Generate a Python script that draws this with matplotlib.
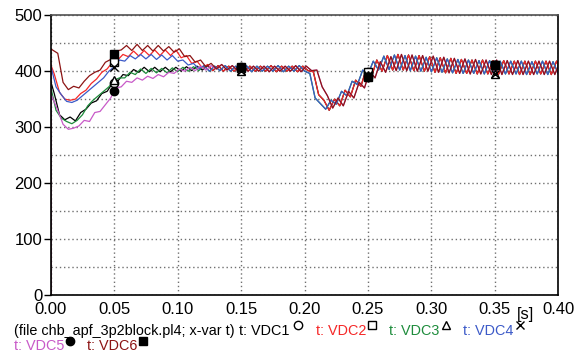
import numpy as np
import matplotlib
matplotlib.use("Agg")
import matplotlib.pyplot as plt
from matplotlib.lines import Line2D

plt.rcParams['font.family'] = ['Liberation Sans', 'DejaVu Sans']

# ripple half period (120 Hz ripple) and phase offsets of the three legs
h = 1.0 / 240
offsets = {'a': 2 * h / 3, 'b': 0.0, 'c': 4 * h / 3}

# start of each trace: t=0 zero, initial value, then samples k=0..29
vdc1_start = [0, 382, 360, 322, 313, 318, 311, 326, 332, 343, 347, 360, 364, 378,
              382, 394, 392, 403, 398, 407, 399, 407, 399, 407, 399, 407, 400,
              408, 401, 409, 402, 410]
vdc2_start = [0, 412, 395, 362, 350, 348, 350, 360, 366, 378, 386, 398, 404, 416,
              420, 430, 426, 436, 427, 437, 428, 438, 428, 438, 428, 438, 424,
              428, 414, 418, 406, 412]
vdc3_start = [0, 372, 372, 330, 316, 310, 306, 312, 322, 338, 348, 356, 364, 372,
              384, 388, 388, 398, 394, 404, 396, 405, 397, 405, 397, 406, 399,
              407, 400, 408, 401, 410]
vdc4_start = [0, 410, 410, 372, 358, 346, 344, 348, 356, 364, 372, 380, 388, 400,
              408, 420, 418, 428, 422, 430, 422, 430, 421, 429, 420, 428, 418,
              420, 411, 414, 404, 410]
vdc5_start = [0, 360, 330, 305, 296, 298, 302, 312, 310, 326, 328, 340, 352, 370,
              372, 382, 380, 388, 384, 391, 387, 394, 390, 398, 396, 404, 400,
              407, 401, 409, 402, 410]
vdc6_start = [0, 440, 432, 380, 367, 373, 370, 382, 392, 398, 402, 416, 421, 436,
              438, 446, 437, 448, 437, 446, 436, 446, 436, 444, 434, 440, 426,
              428, 416, 420, 408, 414]

# shared tails per leg, samples k=30..96
tail_a = [401, 410, 400, 409, 400, 410, 399, 409, 400, 409, 400, 410, 399, 409,
          400, 409, 399, 409,
          401, 399, 358, 348, 330, 350, 338, 366, 354, 384, 373, 404, 390, 420,
          400, 428, 402, 430, 402, 429, 401, 428, 400, 426, 398, 424, 397, 423,
          396, 421, 396, 420, 395, 420, 395, 419, 394, 419, 395, 418, 394, 418,
          394, 418, 395, 418, 394, 418, 395]
tail_b = [400, 409, 401, 410, 400, 409, 400, 410, 399, 409, 400, 409, 400, 410,
          399, 409, 400, 410,
          400, 396, 352, 342, 332, 348, 341, 364, 356, 382, 376, 402, 394, 418,
          402, 427, 403, 429, 402, 428, 401, 427, 400, 425, 399, 424, 398, 422,
          397, 421, 396, 420, 396, 419, 395, 419, 395, 418, 395, 418, 395, 418,
          394, 417, 395, 418, 394, 417, 395]
tail_c = [404, 412, 402, 410, 401, 410, 400, 409, 400, 409, 399, 409, 400, 409,
          400, 410, 399, 409,
          401, 402, 372, 356, 334, 352, 338, 364, 352, 380, 370, 400, 388, 417,
          398, 426, 401, 430, 401, 429, 400, 428, 400, 427, 398, 425, 397, 423,
          396, 422, 395, 421, 395, 420, 394, 420, 394, 419, 394, 419, 394, 418,
          394, 418, 394, 418, 394, 418, 394]

names = ['VDC1', 'VDC2', 'VDC3', 'VDC4', 'VDC5', 'VDC6']
legs = ['a', 'a', 'b', 'b', 'c', 'c']
starts = [vdc1_start, vdc2_start, vdc3_start, vdc4_start, vdc5_start, vdc6_start]
tails = {'a': tail_a, 'b': tail_b, 'c': tail_c}
colors = ['#000000', '#f52828', '#1e8c3c', '#3c5ac8', '#c85ac8', '#8c1414']
markers = ['o', 's', '^', 'x', 'o', 's']
mfaces = ['white', 'white', 'white', 'black', 'black', 'black']
mark_t = [0.05, 0.15, 0.25, 0.35]

fig = plt.figure(figsize=(5.81, 3.52), dpi=100)
ax = fig.add_axes([0.0873, 0.1628, 0.8737, 0.7937])

for name, leg, start, c, m, mf in zip(names, legs, starts, colors, markers, mfaces):
    vals = np.array(start + tails[leg], dtype=float)
    t = np.concatenate([[0.0, 0.0], offsets[leg] + h * np.arange(len(vals) - 2)])
    ax.plot(t, vals, color=c, lw=0.9, zorder=2)
    ax.plot(mark_t, np.interp(mark_t, t, vals), ls='none', marker=m, ms=6,
            mfc=mf, mec='black', mew=1.0, zorder=3)

ax.set_xlim(0, 0.4)
ax.set_ylim(0, 500)
ax.set_xticks(np.arange(0, 0.401, 0.05))
ax.set_xticklabels(['%.2f' % v for v in np.arange(0, 0.401, 0.05)])
ax.set_yticks(np.arange(0, 501, 100))
ax.set_yticks(np.arange(50, 500, 100), minor=True)
ax.tick_params(axis='x', length=0, pad=5.5, labelsize=12)
ax.tick_params(axis='y', which='major', length=5, width=1, pad=1, labelsize=12)
ax.tick_params(axis='y', which='minor', length=0)
ax.grid(True, which='both', color='#707070', ls=(0, (1, 2)), lw=1.0)
for s in ['left', 'bottom', 'right']:
    ax.spines[s].set_color('black')
    ax.spines[s].set_linewidth(1.2)
ax.spines['top'].set_color('#505050')
ax.spines['top'].set_linewidth(1.2)

W, H = 581.0, 352.0


def ftext(x, y, s, color='black', size=10.4):
    fig.text(x / W, 1 - y / H, s, color=color, fontsize=size, ha='left', va='center')


def fmark(x, y, m, face):
    fig.add_artist(Line2D([x / W], [1 - y / H], marker=m, ms=6, mfc=face,
                          mec='black', mew=1.0, ls='none', transform=fig.transFigure))


fig.text(526 / W, 1 - 314 / H, '[s]', fontsize=12, ha='center', va='center')
ftext(14, 331, '(file chb_apf_3p2block.pl4; x-var t)')
row1 = [(239, 297.5, 0), (316, 371.5, 1), (389, 445.5, 2), (463, 519.5, 3)]
for xt, xm, i in row1:
    ftext(xt, 331, 't: ' + names[i], colors[i])
    fmark(xm, 325, markers[i], mfaces[i])
row2 = [(14, 69.5, 4), (87, 143, 5)]
for xt, xm, i in row2:
    ftext(xt, 346, 't: ' + names[i], colors[i])
    fmark(xm, 341, markers[i], mfaces[i])

fig.savefig('out.png', dpi=100)
